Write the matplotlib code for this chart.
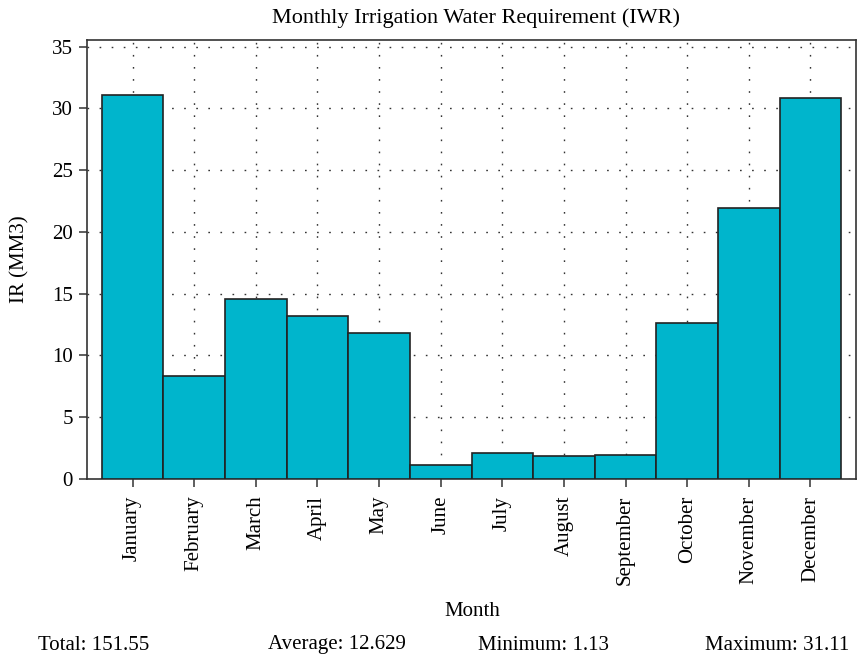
import matplotlib
matplotlib.use("Agg")
import matplotlib.pyplot as plt
import numpy as np

plt.rcParams['font.family'] = ['Liberation Serif', 'DejaVu Serif']

months = ["January", "February", "March", "April", "May", "June", "July",
          "August", "September", "October", "November", "December"]
iwr = [31.11, 8.36, 14.58, 13.20, 11.80, 1.13, 2.09, 1.83, 1.94, 12.66, 21.90, 30.85]
yticks = [0, 5, 10, 15, 20, 25, 30, 35]
footer = ["Total: 151.55", "Average: 12.629", "Minimum: 1.13", "Maximum: 31.11"]
footer_x = [38, 268, 478, 705]

fig = plt.figure(figsize=(8.57, 6.63), dpi=100)
ax = fig.add_axes([87/857, 1-479/663, (856-87)/857, (479-40)/663])

x = np.arange(len(months))
ax.bar(x, iwr, width=1.0, color="#00B5CC", edgecolor="#222222", linewidth=1.2, zorder=3)

ax.set_xlim(-0.74, 11.74)
ax.set_ylim(0, 35.54)
ax.set_yticks(yticks)
ax.set_xticks(x)
ax.set_xticklabels(months, rotation=90, fontsize=15)
ax.tick_params(axis='y', labelsize=15, direction='out', length=6, width=1.1, color="#333333", pad=4)
ax.tick_params(axis='x', direction='out', length=6, width=1.1, color="#333333", pad=6)
ax.grid(True, linestyle=(0, (1.2, 7.5)), linewidth=1.0, color="#333333", zorder=0)
for s in ax.spines.values():
    s.set_color("#333333")
    s.set_linewidth(1.2)

fig.text(476/857, 1-18/663, "Monthly Irrigation Water Requirement (IWR)",
         ha='center', va='center', fontsize=16)
ax.set_ylabel("IR (MM3)", fontsize=15)
ax.yaxis.set_label_coords((29-87)/769, 0.5)
fig.text(472/857, 1-611/663, "Month", ha='center', va='center', fontsize=15)
for t, fx in zip(footer, footer_x):
    fig.text(fx/857, 1-645/663, t, ha='left', va='center', fontsize=15)

fig.savefig("out.png", dpi=100)
